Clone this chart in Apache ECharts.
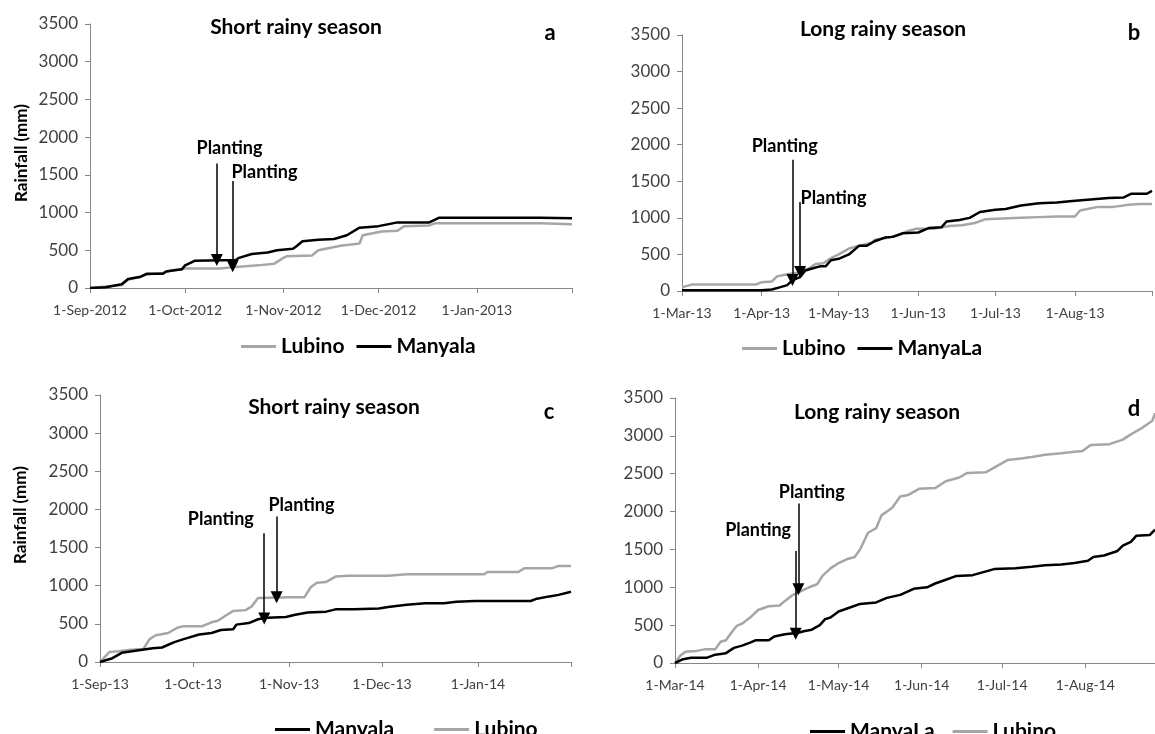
<!DOCTYPE html>
<html>
<head>
<meta charset="utf-8">
<script src="https://cdn.jsdelivr.net/npm/echarts@6/dist/echarts.min.js"></script>
<style>
html,body{margin:0;padding:0;background:#fff;}
#chart{width:1155px;height:734px;}
</style>
</head>
<body>
<div id="chart"></div>
<script>
// ---------- DATA (day offset from season start, cumulative rainfall mm) ----------
const yTicks = [0, 500, 1000, 1500, 2000, 2500, 3000, 3500];

// Panel a: Short rainy season, from 1-Sep-2012
const startA = '2012-09-01', daysA = 152;
const lubinoA = [[0,0],[5,20],[10,40],[12,110],[16,150],[18,180],[23,200],[26,240],[29,250],[30,260],[41,260],[46,280],[53,300],[58,320],[61,400],[62,420],[70,430],[72,500],[79,560],[85,590],[86,700],[92,750],[97,760],[99,820],[107,830],[109,860],[142,860],[152,845]];
const manyalaA = [[0,0],[5,10],[10,50],[12,120],[16,150],[18,190],[23,190],[24,220],[29,250],[30,300],[33,360],[46,370],[47,400],[51,450],[56,470],[59,500],[64,520],[65,550],[67,620],[72,640],[77,650],[81,700],[85,800],[91,820],[97,870],[107,870],[110,930],[142,930],[152,925]];
const plantingA = [[40,1650,370,44,1860],[45,1420,290,55,1540]]; // [arrowDay, arrowTop, arrowTip, labelDay, labelValue]

// Panel b: Long rainy season, from 1-Mar-2013
const startB = '2013-03-01', daysB = 183;
const lubinoB = [[0,50],[4,90],[29,90],[31,120],[35,130],[37,200],[41,230],[45,250],[46,280],[49,300],[52,370],[55,380],[58,450],[61,500],[65,580],[69,620],[74,660],[75,700],[79,720],[84,760],[88,820],[91,850],[98,850],[104,890],[109,900],[114,930],[118,980],[125,990],[132,1000],[139,1010],[146,1020],[153,1020],[155,1100],[162,1150],[168,1150],[174,1180],[178,1190],[183,1190]];
const manyalaB = [[0,10],[31,10],[35,20],[38,50],[41,80],[43,150],[46,190],[48,280],[50,300],[54,340],[56,340],[58,420],[61,440],[65,500],[69,620],[72,620],[75,680],[79,730],[82,740],[86,790],[92,800],[96,860],[101,870],[103,950],[108,970],[112,1000],[116,1080],[122,1110],[126,1120],[132,1170],[139,1200],[146,1210],[152,1230],[159,1250],[166,1270],[172,1280],[175,1330],[181,1330],[183,1370]];
const plantingB = [[43,1795,150,40,1980],[46,1218,260,59,1264]];

// Panel c: Short rainy season, from 1-Sep-2013
const startC = '2013-09-01', daysC = 152;
const manyalaC = [[0,0],[4,50],[7,120],[12,150],[17,180],[20,190],[24,260],[27,300],[32,360],[36,380],[39,420],[43,430],[44,490],[48,510],[51,560],[54,580],[60,590],[63,620],[67,650],[73,660],[76,690],[82,690],[90,700],[93,720],[99,750],[105,770],[111,770],[115,790],[121,800],[139,800],[141,830],[145,860],[148,880],[152,920]];
const lubinoC = [[0,0],[3,130],[6,140],[10,160],[14,170],[16,300],[18,350],[22,380],[25,450],[27,470],[33,470],[36,520],[38,540],[41,620],[43,670],[47,680],[49,730],[51,840],[61,850],[66,850],[68,980],[70,1040],[73,1050],[76,1120],[80,1130],[93,1130],[99,1150],[124,1150],[125,1180],[135,1180],[137,1230],[146,1230],[148,1260],[152,1260]];
const plantingC = [[53,1687,570,39,1872],[57,1907,850,65,2053]];

// Panel d: Long rainy season, from 1-Mar-2014
const startD = '2014-03-01', daysD = 179;
const manyalaD = [[0,0],[3,50],[6,70],[12,70],[15,110],[19,130],[22,200],[25,230],[28,270],[30,300],[35,300],[37,350],[41,380],[46,400],[48,420],[51,440],[54,500],[56,580],[58,600],[61,680],[65,730],[69,780],[75,800],[79,860],[84,900],[89,980],[94,1000],[97,1050],[101,1100],[105,1150],[111,1160],[115,1200],[119,1240],[127,1250],[133,1270],[138,1290],[144,1300],[149,1320],[154,1350],[156,1400],[160,1420],[165,1480],[167,1550],[170,1600],[172,1680],[177,1690],[179,1760]];
const lubinoD = [[0,0],[2,100],[4,150],[8,160],[11,180],[15,180],[17,280],[19,300],[21,400],[23,490],[25,520],[28,600],[31,700],[35,750],[39,760],[41,820],[44,900],[47,950],[50,1000],[53,1040],[55,1150],[58,1250],[61,1320],[64,1370],[67,1400],[69,1500],[72,1720],[75,1780],[77,1950],[81,2050],[84,2200],[87,2220],[91,2300],[97,2310],[101,2400],[106,2450],[109,2510],[116,2520],[120,2600],[124,2680],[129,2700],[133,2720],[138,2750],[144,2770],[149,2790],[152,2800],[155,2880],[162,2890],[167,2950],[170,3020],[174,3100],[178,3200],[179,3300]];
const plantingD = [[45,1478,385,31,1750],[46,2105,975,51,2254]];

const titles = ['Short rainy season', 'Long rainy season', 'Short rainy season', 'Long rainy season'];
const letters = ['a', 'b', 'c', 'd'];
const legendsNames = [['Lubino','Manyala'], ['Lubino','ManyaLa'], ['Manyala','Lubino'], ['ManyaLa','Lubino']];

// ---------- helpers ----------
const MON = ['Jan','Feb','Mar','Apr','May','Jun','Jul','Aug','Sep','Oct','Nov','Dec'];
function makeCats(start, n) {
  const [y, m, d] = start.split('-').map(Number);
  const t0 = Date.UTC(y, m - 1, d);
  const out = [];
  for (let i = 0; i <= n; i++) {
    const dt = new Date(t0 + i * 86400000);
    out.push(dt.getUTCFullYear() + '-' + String(dt.getUTCMonth() + 1).padStart(2, '0') + '-' + String(dt.getUTCDate()).padStart(2, '0'));
  }
  return out;
}
function fmtDate(longYear) {
  return function (v) {
    const [y, m, d] = v.split('-').map(Number);
    return d + '-' + MON[m - 1] + '-' + (longYear ? y : String(y).slice(2));
  };
}
function toPairs(cats, arr) { return arr.map(p => [cats[p[0]], p[1]]); }

const FONT = 'Lato, "Open Sans", sans-serif';
const panels = [
  {start: startA, n: daysA, longYear: true,  grid: {left: 90,  top: 24,  width: 482, height: 264}, lub: lubinoA, man: manyalaA, manName: 'Manyala', plant: plantingA},
  {start: startB, n: daysB, longYear: false, grid: {left: 682, top: 35,  width: 470, height: 256}, lub: lubinoB, man: manyalaB, manName: 'ManyaLa', plant: plantingB},
  {start: startC, n: daysC, longYear: false, grid: {left: 100, top: 395, width: 471, height: 267}, lub: lubinoC, man: manyalaC, manName: 'Manyala', plant: plantingC},
  {start: startD, n: daysD, longYear: false, grid: {left: 675, top: 398, width: 480, height: 265}, lub: lubinoD, man: manyalaD, manName: 'ManyaLa', plant: plantingD}
];
const titlePos = [[296, 27], [883, 29], [334, 407], [877, 412]];
const letterPos = [[550, 33], [1134, 33], [549, 412], [1134, 409]];
const legendPos = [[236, 331], [737, 333], [270, 714], [805, 716]];
const legendGap = [12, 12, 40, 18];

const grids = [], xAxes = [], yAxes = [], series = [], graphics = [], legends = [];
panels.forEach((p, i) => {
  const cats = makeCats(p.start, p.n);
  grids.push(Object.assign({containLabel: false}, p.grid));
  const last = cats.length - 1;
  xAxes.push({
    type: 'category', gridIndex: i, data: cats, boundaryGap: false,
    axisLine: {show: true, lineStyle: {color: '#868686', width: 1}},
    axisTick: {show: true, length: 5, lineStyle: {color: '#868686'},
      interval: (idx, v) => v.endsWith('-01') || idx === last},
    axisLabel: {interval: (idx, v) => v.endsWith('-01'), formatter: fmtDate(p.longYear),
      color: '#404040', fontSize: 14, fontFamily: FONT, margin: 15},
    splitLine: {show: false}
  });
  yAxes.push({
    type: 'value', gridIndex: i, min: yTicks[0], max: yTicks[yTicks.length - 1], interval: yTicks[1] - yTicks[0],
    axisLine: {show: true, lineStyle: {color: '#868686', width: 1}},
    axisTick: {show: true, length: 5, lineStyle: {color: '#868686'}},
    axisLabel: {color: '#404040', fontSize: 17, fontFamily: FONT, margin: 12, formatter: v => String(v)},
    splitLine: {show: false}
  });
  const arrows = p.plant.map(a => [{coord: [cats[a[0]], a[1]]}, {coord: [cats[a[0]], a[2]]}]);
  const labels = p.plant.map(a => ({coord: [cats[a[3]], a[4]]}));
  series.push({
    name: 'Lubino', type: 'line', xAxisIndex: i, yAxisIndex: i, data: toPairs(cats, p.lub),
    showSymbol: false, symbol: 'none', lineStyle: {color: '#a6a6a6', width: 2.5}, itemStyle: {color: '#a6a6a6'},
    animation: false, z: 2
  });
  series.push({
    name: p.manName, type: 'line', xAxisIndex: i, yAxisIndex: i, data: toPairs(cats, p.man),
    showSymbol: false, symbol: 'none', lineStyle: {color: '#000000', width: 2.5}, itemStyle: {color: '#000000'},
    animation: false, z: 3,
    markLine: {silent: true, animation: false, symbol: ['none', 'triangle'], symbolSize: 12,
      lineStyle: {color: '#000', width: 1.5, type: 'solid'}, label: {show: false}, emphasis: {disabled: true},
      data: arrows},
    markPoint: {silent: true, animation: false, symbol: 'circle', symbolSize: 0,
      label: {show: true, position: 'inside', formatter: 'Planting', color: '#000', fontWeight: 'bold', fontSize: 18, fontFamily: FONT},
      data: labels}
  });
  graphics.push({type: 'text', x: titlePos[i][0], y: titlePos[i][1],
    style: {text: titles[i], fill: '#000', font: 'bold 21px ' + FONT, textAlign: 'center', textVerticalAlign: 'middle'}});
  graphics.push({type: 'text', x: letterPos[i][0], y: letterPos[i][1],
    style: {text: letters[i], fill: '#000', font: 'bold 22px ' + FONT, textAlign: 'center', textVerticalAlign: 'middle'}});
  legends.push({
    data: legendsNames[i], left: legendPos[i][0], top: legendPos[i][1], orient: 'horizontal',
    icon: 'rect', itemWidth: 35, itemHeight: 3, itemGap: legendGap[i], selectedMode: false,
    textStyle: {color: '#000', fontSize: 21, fontWeight: 'bold', fontFamily: FONT}
  });
});
graphics.push({type: 'text', x: 22, y: 153, rotation: Math.PI / 2,
  style: {text: 'Rainfall (mm)', fill: '#000', font: 'bold 17px ' + FONT, textAlign: 'center', textVerticalAlign: 'middle'}});
graphics.push({type: 'text', x: 21, y: 515, rotation: Math.PI / 2,
  style: {text: 'Rainfall (mm)', fill: '#000', font: 'bold 17px ' + FONT, textAlign: 'center', textVerticalAlign: 'middle'}});

const chart = echarts.init(document.getElementById('chart'));
chart.setOption({
  backgroundColor: '#fff',
  animation: false,
  grid: grids, xAxis: xAxes, yAxis: yAxes, series: series,
  legend: legends,
  graphic: graphics
});
</script>
</body>
</html>
